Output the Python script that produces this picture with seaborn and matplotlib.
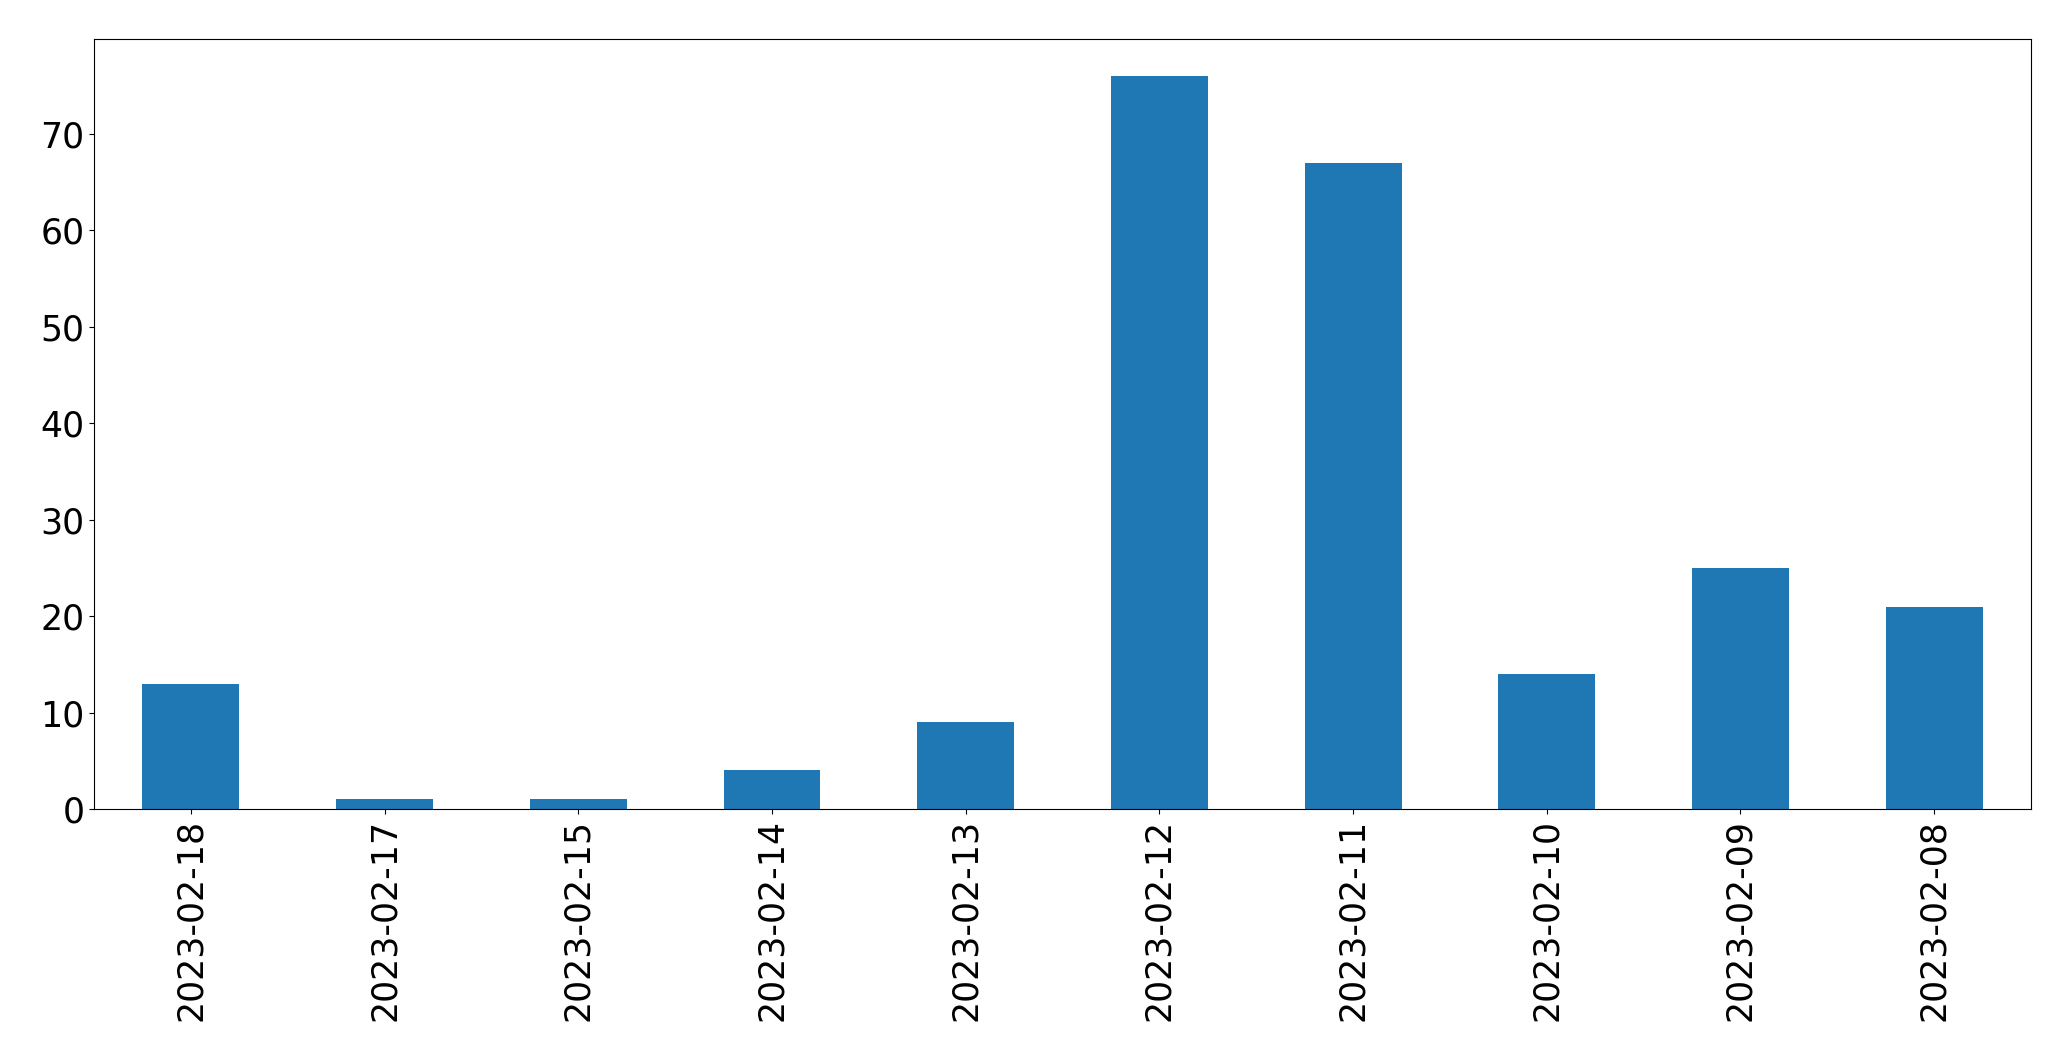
import matplotlib
matplotlib.use("Agg")
import matplotlib.pyplot as plt
import seaborn as sns
import pandas as pd

dates = ["2023-02-18", "2023-02-17", "2023-02-15", "2023-02-14", "2023-02-13",
         "2023-02-12", "2023-02-11", "2023-02-10", "2023-02-09", "2023-02-08"]
counts = [13, 1, 1, 4, 9, 76, 67, 14, 25, 21]

df = pd.DataFrame({"date": dates, "count": counts})

fig = plt.figure(figsize=(20.71, 10.61), dpi=100)
ax = fig.add_axes([0.0454, 0.2375, 0.9353, 0.7253])

sns.barplot(data=df, x="date", y="count", order=dates, color="#1f77b4",
            saturation=1, width=0.5, ax=ax)

ax.set_xlim(-0.5, len(dates) - 0.5)
ax.set_ylim(0, max(counts) * 1.05)
ax.set_xlabel("")
ax.set_ylabel("")
ax.tick_params(axis="both", labelsize=25)
ax.tick_params(axis="x", rotation=90)

fig.savefig("out.png", dpi=100)
